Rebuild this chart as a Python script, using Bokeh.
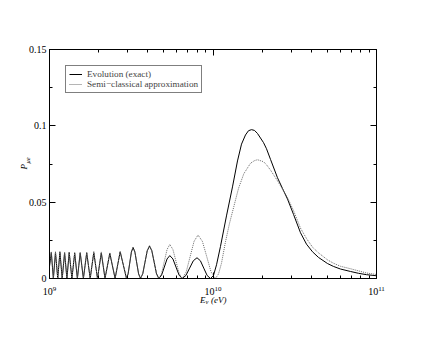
from bokeh.plotting import figure
from bokeh.models import (LogAxis, LinearAxis, FixedTicker, Range1d, Label,
                          Legend, LegendItem, ColumnDataSource)
from bokeh.embed import file_html
from bokeh.resources import INLINE
import math

# ---------------- data (energies in GeV = 1e9 eV) ----------------
exact_E_GeV = [
    1.000, 1.026, 1.056, 1.088, 1.123, 1.158, 1.196, 1.237, 1.278, 1.320,
    1.371, 1.426, 1.481, 1.511, 1.541, 1.576, 1.612, 1.650, 1.689, 1.731,
    1.774, 1.819, 1.866, 1.915, 1.966, 2.019, 2.074, 2.129, 2.185, 2.260,
    2.338, 2.427, 2.519, 2.611, 2.706, 2.829, 2.958, 3.025, 3.096, 3.169,
    3.242, 3.330, 3.417, 3.508, 3.603, 3.719, 3.838, 3.962, 4.090, 4.224,
    4.367, 4.513, 4.662, 4.846, 5.038, 5.236, 5.443, 5.686, 5.940, 6.205,
    6.482, 6.829, 7.194, 7.578, 7.983, 8.375, 8.779, 9.204, 9.654, 10.07,
    10.51, 11.11, 12.09, 13.16, 14.12, 14.94, 15.80, 16.49, 17.20, 17.94,
    18.71, 20.37, 21.24, 22.48, 24.80, 26.61, 28.56, 31.08, 34.28, 37.31,
    40.61, 44.19, 50.16, 54.58, 60.24, 69.35, 77.62, 86.86, 100.0]
exact_P = [
    0.0080, 0.0170, 0.0, 0.0170, 0.0, 0.0172, 0.0, 0.0168, 0.0, 0.0170,
    0.0, 0.0166, 0.0, 0.0084, 0.0168, 0.0084, 0.0, 0.0084, 0.0168, 0.0084,
    0.0, 0.0085, 0.0170, 0.0085, 0.0, 0.0084, 0.0168, 0.0084, 0.0, 0.0082,
    0.0164, 0.0082, 0.0, 0.0088, 0.0175, 0.0088, 0.0, 0.0030, 0.0101, 0.0173,
    0.0203, 0.0173, 0.0101, 0.0030, 0.0, 0.0031, 0.0107, 0.0182, 0.0213, 0.0182,
    0.0107, 0.0031, 0.0, 0.0022, 0.0075, 0.0128, 0.0150, 0.0128, 0.0075, 0.0022,
    0.0, 0.0020, 0.0068, 0.0116, 0.0136, 0.0116, 0.0068, 0.0020, 0.0, 0.0020,
    0.0090, 0.0210, 0.0410, 0.0600, 0.0770, 0.0880, 0.0940, 0.0968, 0.0975, 0.0970,
    0.0950, 0.0890, 0.0850, 0.0780, 0.0660, 0.0590, 0.0520, 0.0420, 0.0300, 0.0225,
    0.0175, 0.0138, 0.0098, 0.0079, 0.0062, 0.0046, 0.0034, 0.0025, 0.0018]

semi_E_GeV = [
    1.000, 1.026, 1.056, 1.088, 1.123, 1.158, 1.196, 1.237, 1.278, 1.320,
    1.371, 1.426, 1.481, 1.511, 1.541, 1.576, 1.612, 1.650, 1.689, 1.731,
    1.774, 1.819, 1.866, 1.915, 1.966, 2.019, 2.074, 2.129, 2.185, 2.260,
    2.338, 2.427, 2.519, 2.611, 2.706, 2.829, 2.958, 3.025, 3.096, 3.169,
    3.242, 3.330, 3.417, 3.508, 3.603, 3.719, 3.838, 3.962, 4.090, 4.224,
    4.367, 4.513, 4.662, 4.846, 5.038, 5.236, 5.443, 5.686, 5.940, 6.205,
    6.482, 6.853, 7.244, 7.658, 8.097, 8.614, 9.159, 9.736, 10.36, 10.81,
    11.27, 11.92, 12.61, 13.40, 14.32, 15.43, 16.96, 17.94, 18.71, 20.37,
    21.24, 22.48, 24.80, 26.61, 28.56, 31.08, 34.28, 37.31, 40.61, 44.19,
    50.16, 54.58, 60.24, 69.35, 77.62, 86.86, 100.0]
semi_P = [
    0.0090, 0.0175, 0.0, 0.0175, 0.0, 0.0177, 0.0, 0.0173, 0.0, 0.0175,
    0.0, 0.0171, 0.0, 0.0087, 0.0173, 0.0087, 0.0, 0.0087, 0.0173, 0.0087,
    0.0, 0.0088, 0.0176, 0.0088, 0.0, 0.0087, 0.0174, 0.0087, 0.0, 0.0085,
    0.0170, 0.0085, 0.0, 0.0089, 0.0178, 0.0089, 0.0, 0.0030, 0.0103, 0.0176,
    0.0206, 0.0176, 0.0103, 0.0030, 0.0, 0.0031, 0.0108, 0.0184, 0.0215, 0.0184,
    0.0108, 0.0031, 0.0, 0.0033, 0.0112, 0.0190, 0.0223, 0.0190, 0.0112, 0.0033,
    0.0, 0.0042, 0.0143, 0.0243, 0.0285, 0.0243, 0.0143, 0.0042, 0.0, 0.0030,
    0.0100, 0.0240, 0.0360, 0.0470, 0.0590, 0.0686, 0.0755, 0.0772, 0.0778, 0.0765,
    0.0745, 0.0710, 0.0640, 0.0585, 0.0530, 0.0445, 0.0330, 0.0262, 0.0205, 0.0168,
    0.0122, 0.0100, 0.0080, 0.0064, 0.0050, 0.0036, 0.0026]

series_labels = ["Evolution (exact)", "Semi\u2212classical approximation"]

x_major_ticks = [1e9, 1e10, 1e11]
x_minor_ticks = [m * 1e9 for m in range(2, 10)] + [m * 1e10 for m in range(2, 10)]
y_major_ticks = [0, 0.05, 0.1, 0.15]
y_tick_labels = ["0", "0.05", "0.1", "0.15"]
y_minor_ticks = [0.025, 0.075, 0.125]

GEV = 1e9
exact_src = ColumnDataSource(dict(E=[e * GEV for e in exact_E_GeV], P=exact_P))
semi_src = ColumnDataSource(dict(E=[e * GEV for e in semi_E_GeV], P=semi_P))

FONT = "Liberation Serif"
W, H = 430, 330

p = figure(width=W, height=H, x_axis_type="log",
           x_range=Range1d(1e9, 1e11), y_range=Range1d(0, 0.15),
           output_backend="svg", toolbar_location=None,
           min_border_left=49, min_border_right=W - 376,
           min_border_top=49, min_border_bottom=H - 278)
p.xgrid.visible = False
p.ygrid.visible = False
p.outline_line_color = "black"
p.outline_line_width = 1
p.background_fill_color = "white"
p.border_fill_color = "white"

r_exact = p.line("E", "P", source=exact_src, line_color="black", line_width=1)
r_semi = p.line("E", "P", source=semi_src, line_color="#6a6a6a", line_width=1,
                line_dash="1 1")


def style_axis(ax):
    ax.major_tick_in = 6
    ax.major_tick_out = 0
    ax.minor_tick_in = 3
    ax.minor_tick_out = 0
    ax.axis_line_color = "black"
    ax.axis_line_width = 1
    ax.major_tick_line_color = "black"
    ax.minor_tick_line_color = "black"
    ax.major_label_text_font = FONT
    ax.major_label_text_font_size = "10px"
    ax.major_label_text_color = "black"
    ax.major_label_standoff = 4


xb = p.xaxis[0]
xb.ticker = FixedTicker(ticks=x_major_ticks, minor_ticks=x_minor_ticks)
style_axis(xb)
xb.major_label_standoff = 7

yl = p.yaxis[0]
yl.ticker = FixedTicker(ticks=y_major_ticks, minor_ticks=y_minor_ticks)
yl.major_label_overrides = dict(zip(y_major_ticks, y_tick_labels))
style_axis(yl)
yl.major_label_standoff = 3

xt = LogAxis(ticker=FixedTicker(ticks=x_major_ticks, minor_ticks=x_minor_ticks))
style_axis(xt)
xt.major_label_overrides = {t: "" for t in x_major_ticks}
p.add_layout(xt, "above")

yr = LinearAxis(ticker=FixedTicker(ticks=y_major_ticks, minor_ticks=y_minor_ticks))
style_axis(yr)
yr.major_label_overrides = {t: "" for t in y_major_ticks}
p.add_layout(yr, "right")

legend = Legend(items=[LegendItem(label=series_labels[0], renderers=[r_exact]),
                       LegendItem(label=series_labels[1], renderers=[r_semi])],
                location=(16, 185))
legend.border_line_color = "black"
legend.border_line_width = 1
legend.background_fill_color = "white"
legend.background_fill_alpha = 1
legend.label_text_font = FONT
legend.label_text_font_size = "9.2px"
legend.glyph_width = 13
legend.glyph_height = 10
legend.label_height = 10
legend.label_standoff = 5
legend.padding = 3
legend.spacing = 0
legend.margin = 0
p.add_layout(legend, "center")

# axis titles as labels in the side panels (screen units of each panel)
lab_kw = dict(x_units="screen", y_units="screen", text_font=FONT,
              text_font_style="italic", text_color="black",
              text_baseline="alphabetic")
p.add_layout(Label(x=150.5, y=7.5, text="E\u2009\u2009\u2009(eV)", text_font_size="9px",
                   **lab_kw), "below")
p.add_layout(Label(x=156, y=13.5, text="\u03bd", text_font_size="6.5px", **lab_kw), "below")

p.add_layout(Label(x=8, y=109, text="P", text_font_size="9px",
                   angle=math.pi / 2, **lab_kw), "left")
p.add_layout(Label(x=18.5, y=115, text="\u03bce", text_font_size="6.5px",
                   angle=math.pi / 2, **lab_kw), "left")

open("out.html", "w").write(file_html(p, INLINE))
